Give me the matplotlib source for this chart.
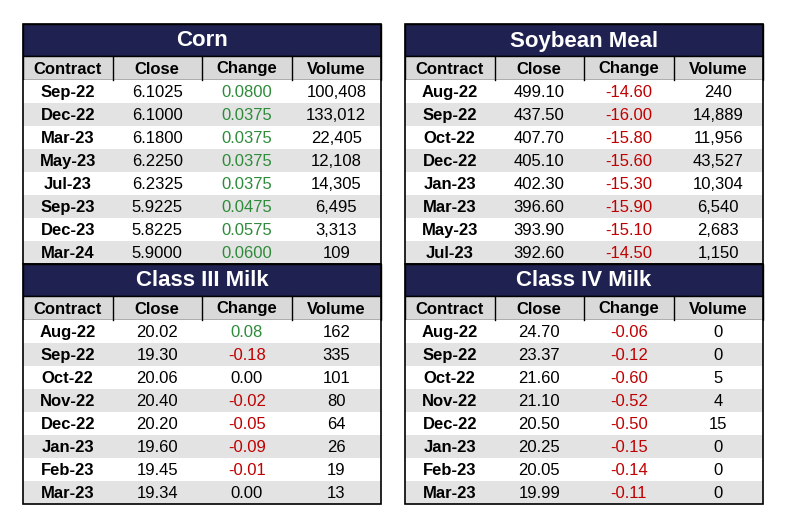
import matplotlib.pyplot as plt
from matplotlib.patches import Rectangle

plt.rcParams['font.family'] = ['Liberation Sans', 'DejaVu Sans']

columns = ['Contract', 'Close', 'Change', 'Volume']

corn_contract = ['Sep-22', 'Dec-22', 'Mar-23', 'May-23', 'Jul-23', 'Sep-23', 'Dec-23', 'Mar-24']
corn_close = ['6.1025', '6.1000', '6.1800', '6.2250', '6.2325', '5.9225', '5.8225', '5.9000']
corn_change = [0.0800, 0.0375, 0.0375, 0.0375, 0.0375, 0.0475, 0.0575, 0.0600]
corn_volume = ['100,408', '133,012', '22,405', '12,108', '14,305', '6,495', '3,313', '109']

meal_contract = ['Aug-22', 'Sep-22', 'Oct-22', 'Dec-22', 'Jan-23', 'Mar-23', 'May-23', 'Jul-23']
meal_close = ['499.10', '437.50', '407.70', '405.10', '402.30', '396.60', '393.90', '392.60']
meal_change = [-14.60, -16.00, -15.80, -15.60, -15.30, -15.90, -15.10, -14.50]
meal_volume = ['240', '14,889', '11,956', '43,527', '10,304', '6,540', '2,683', '1,150']

c3_contract = ['Aug-22', 'Sep-22', 'Oct-22', 'Nov-22', 'Dec-22', 'Jan-23', 'Feb-23', 'Mar-23']
c3_close = ['20.02', '19.30', '20.06', '20.40', '20.20', '19.60', '19.45', '19.34']
c3_change = [0.08, -0.18, 0.00, -0.02, -0.05, -0.09, -0.01, 0.00]
c3_volume = ['162', '335', '101', '80', '64', '26', '19', '13']

c4_contract = ['Aug-22', 'Sep-22', 'Oct-22', 'Nov-22', 'Dec-22', 'Jan-23', 'Feb-23', 'Mar-23']
c4_close = ['24.70', '23.37', '21.60', '21.10', '20.50', '20.25', '20.05', '19.99']
c4_change = [-0.06, -0.12, -0.60, -0.52, -0.50, -0.15, -0.14, -0.11]
c4_volume = ['0', '0', '5', '4', '15', '0', '0', '0']

NAVY = '#1f2150'
GRAY = '#d9d9d9'
GREEN = '#2e8b3a'
RED = '#c00000'

fig = plt.figure(figsize=(7.87, 5.27), dpi=100)
ax = fig.add_axes([0, 0, 1, 1])
ax.set_xlim(0, 787)
ax.set_ylim(527, 0)
ax.axis('off')


def draw_table(x0, y0, title, contract, close, change, volume, decimals):
    w = 358
    cw = w / 4
    th, hh, rh = 32, 24, 23
    ax.add_patch(Rectangle((x0, y0), w, th, facecolor=NAVY, edgecolor='black', lw=1))
    ax.text(x0 + w / 2, y0 + th / 2 + 1, title, color='white', fontsize=16, fontweight='bold',
            ha='center', va='center')
    y = y0 + th
    ax.add_patch(Rectangle((x0, y), w, hh, facecolor=GRAY, edgecolor='black', lw=1))
    for j, c in enumerate(columns):
        if j > 0:
            ax.plot([x0 + j * cw] * 2, [y, y + hh], color='black', lw=1)
        ax.text(x0 + (j + 0.5) * cw, y + hh / 2 + 1, c, fontsize=12, fontweight='bold',
                ha='center', va='center')
    y += hh
    for i in range(len(contract)):
        fc = 'white' if i % 2 == 0 else '#e3e3e3'
        ax.add_patch(Rectangle((x0, y + i * rh), w, rh, facecolor=fc, edgecolor='none'))
        ch = change[i]
        col = GREEN if ch > 0 else (RED if ch < 0 else 'black')
        vals = [contract[i], close[i], f"{ch:.{decimals}f}", volume[i]]
        colors = ['black', 'black', col, 'black']
        for j, v in enumerate(vals):
            ax.text(x0 + (j + 0.5) * cw, y + i * rh + rh / 2 + 1, v, fontsize=12,
                    fontweight='bold' if j == 0 else 'normal', color=colors[j],
                    ha='center', va='center')
    ax.add_patch(Rectangle((x0, y0), w, th + hh + rh * len(contract), facecolor='none',
                           edgecolor='black', lw=1.2))


draw_table(23, 24, 'Corn', corn_contract, corn_close, corn_change, corn_volume, 4)
draw_table(405, 24, 'Soybean Meal', meal_contract, meal_close, meal_change, meal_volume, 2)
draw_table(23, 264, 'Class III Milk', c3_contract, c3_close, c3_change, c3_volume, 2)
draw_table(405, 264, 'Class IV Milk', c4_contract, c4_close, c4_change, c4_volume, 2)

fig.savefig('out.png', dpi=100)
